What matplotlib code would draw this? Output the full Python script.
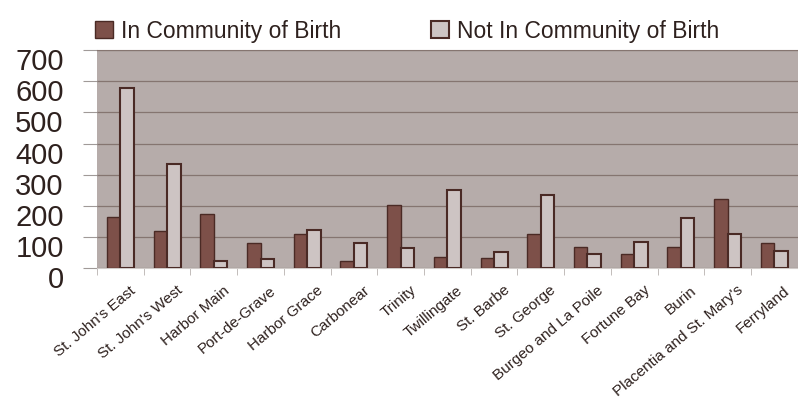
import matplotlib.pyplot as plt
import matplotlib.transforms as mtransforms
import numpy as np

plt.rcParams['font.family'] = ['Liberation Sans', 'DejaVu Sans']

# === Data ===
districts = ["St. John's East", "St. John's West", "Harbor Main", "Port-de-Grave",
             "Harbor Grace", "Carbonear", "Trinity", "Twillingate", "St. Barbe",
             "St. George", "Burgeo and La Poile", "Fortune Bay", "Burin",
             "Placentia and St. Mary's", "Ferryland"]
in_birth = [164, 118, 175, 79, 108, 23, 202, 36, 32, 108, 68, 46, 68, 223, 81]
not_in_birth = [580, 335, 23, 28, 122, 79, 65, 252, 50, 234, 45, 83, 162, 108, 55]
y_ticks = [0, 100, 200, 300, 400, 500, 600, 700]

dark = '#7d5049'
light = '#cdc4c3'
edge = '#4a2a25'
text_col = '#2e211e'

fig = plt.figure(figsize=(7.98, 4.08), dpi=100)
ax = fig.add_axes([0.1216, 0.343, 0.878, 0.534])
ax.set_facecolor('#b6acaa')

x = np.arange(len(districts))
w = 0.29
ax.bar(x - w / 2, in_birth, w, color=dark, edgecolor=edge, linewidth=1.0,
       label='In Community of Birth', zorder=3)
ax.bar(x + w / 2, not_in_birth, w, color=light, edgecolor=edge, linewidth=1.5,
       label='Not In Community of Birth', zorder=3)

ax.set_xlim(-0.5, len(districts) - 0.5)
ax.set_ylim(0, 700)
ax.set_yticks(y_ticks)
ax.set_yticklabels([str(v) for v in y_ticks], fontsize=21, color=text_col)
ax.yaxis.grid(True, color='#857570', linewidth=0.9, zorder=1)
ax.tick_params(axis='y', length=10, color='#a09a98', pad=14)

# labels sit a bit below their gridlines in the original
offset = mtransforms.ScaledTranslation(0, -9 / 100, fig.dpi_scale_trans)
for lab in ax.get_yticklabels():
    lab.set_transform(lab.get_transform() + offset)

# category boundaries as minor ticks, labels on the centres
ax.set_xticks(x)
ax.set_xticklabels(districts, rotation=40, ha='right', rotation_mode='anchor',
                   fontsize=11, color=text_col)
ax.tick_params(axis='x', which='major', length=0, pad=11)
ax.set_xticks(np.arange(len(districts) + 1) - 0.5, minor=True)
ax.tick_params(axis='x', which='minor', length=5, color='#b8b2b0')

xoff = mtransforms.ScaledTranslation(9 / 100, 0, fig.dpi_scale_trans)
for lab in ax.get_xticklabels():
    lab.set_transform(lab.get_transform() + xoff)

for side in ['left', 'right']:
    ax.spines[side].set_visible(False)
ax.spines['top'].set_color('#857570')
ax.spines['bottom'].set_color('#d0cac8')

leg = ax.legend(ncol=2, loc='lower left', bbox_to_anchor=(-0.003, 1.035),
                frameon=False, fontsize=16.5, handlelength=0.8, handleheight=0.8,
                handletextpad=0.35, columnspacing=3.9, borderaxespad=0,
                borderpad=0)
for t in leg.get_texts():
    t.set_color(text_col)

plt.savefig('out.png', dpi=100)
